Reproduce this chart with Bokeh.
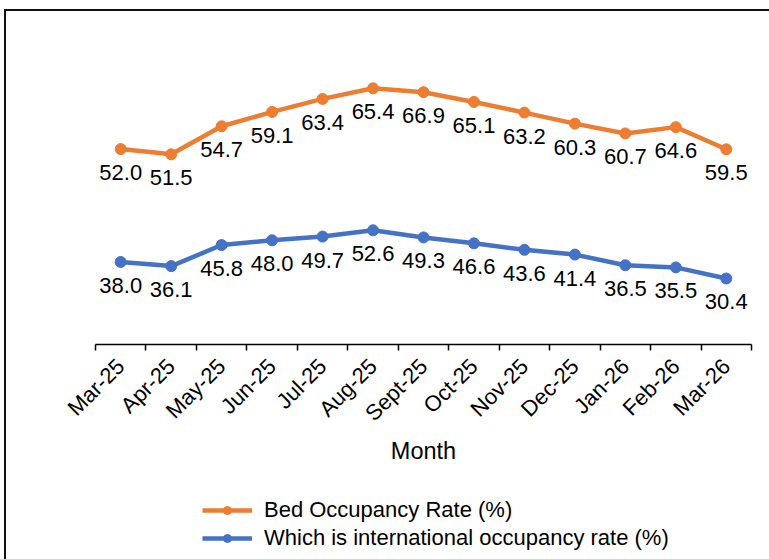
from bokeh.plotting import figure
from bokeh.layouts import column
from bokeh.models import Range1d, FixedTicker, ColumnDataSource, Legend, LegendItem
from bokeh.core.properties import value
from bokeh.embed import file_html
from bokeh.resources import INLINE
import math

months = ["Mar-25", "Apr-25", "May-25", "Jun-25", "Jul-25", "Aug-25", "Sept-25",
          "Oct-25", "Nov-25", "Dec-25", "Jan-26", "Feb-26", "Mar-26"]
intl_rate = [38.0, 36.1, 45.8, 48.0, 49.7, 52.6, 49.3, 46.6, 43.6, 41.4, 36.5, 35.5, 30.4]
bed_rate = [52.0, 51.5, 54.7, 59.1, 63.4, 65.4, 66.9, 65.1, 63.2, 60.3, 60.7, 64.6, 59.5]
series_names = ["Bed Occupancy Rate (%)", "Which is international occupancy rate (%)"]

ORANGE = "#ED7D31"
BLUE = "#4472C4"
FONT = "Liberation Sans"

n = len(months)
xs = [i + 0.5 for i in range(n)]
stacked = [a + b for a, b in zip(intl_rate, bed_rate)]

src = ColumnDataSource(dict(
    x=xs, intl=intl_rate, stacked=stacked,
    intl_lbl=[f"{v:.1f}" for v in intl_rate],
    bed_lbl=[f"{v:.1f}" for v in bed_rate],
))

p = figure(frame_width=656, frame_height=304, output_backend="svg", toolbar_location=None,
           x_range=Range1d(0, n), y_range=Range1d(0, 140),
           min_border_left=89, min_border_right=18, min_border_top=29, min_border_bottom=140)
p.outline_line_color = None
p.xgrid.visible = False
p.ygrid.visible = False
p.yaxis.visible = False

ax = p.xaxis[0]
ax.ticker = FixedTicker(ticks=xs, minor_ticks=list(range(n + 1)))
ax.major_label_overrides = {x: m for x, m in zip(xs, months)}
ax.major_tick_in = 0
ax.major_tick_out = 0
ax.minor_tick_in = 0
ax.minor_tick_out = 6
ax.minor_tick_line_color = "#000000"
ax.minor_tick_line_width = 1.5
ax.axis_line_color = "#000000"
ax.axis_line_width = 1.5
ax.major_label_orientation = math.pi / 4
ax.major_label_text_font = FONT
ax.major_label_text_font_size = "22px"
ax.major_label_text_color = "#000000"
ax.major_label_standoff = 12
ax.axis_label = "Month"
ax.axis_label_text_font = FONT
ax.axis_label_text_font_size = "23.5px"
ax.axis_label_text_font_style = "normal"
ax.axis_label_text_color = "#000000"
ax.axis_label_standoff = 0

p.line("x", "stacked", source=src, line_color=ORANGE, line_width=4.5)
p.scatter("x", "stacked", source=src, size=11, fill_color=ORANGE, line_color=ORANGE)
p.line("x", "intl", source=src, line_color=BLUE, line_width=4.5)
p.scatter("x", "intl", source=src, size=11, fill_color=BLUE, line_color=BLUE)

for col, ycol in (("bed_lbl", "stacked"), ("intl_lbl", "intl")):
    p.text("x", ycol, text=col, source=src, text_font=value(FONT), text_font_size="22px",
           text_color="#000000", text_align="center", text_baseline="top", y_offset=16)

# legend strip below the chart
p2 = figure(width=763, height=75, output_backend="svg", toolbar_location=None,
            x_range=Range1d(0, n), y_range=Range1d(1000, 1001),
            x_axis_type=None, y_axis_type=None, min_border=0)
p2.outline_line_color = None
p2.xgrid.visible = False
p2.ygrid.visible = False
la = p2.line("x", "stacked", source=src, line_color=ORANGE, line_width=4.5)
sa = p2.scatter("x", "stacked", source=src, size=11, fill_color=ORANGE, line_color=ORANGE)
lb = p2.line("x", "intl", source=src, line_color=BLUE, line_width=4.5)
sb = p2.scatter("x", "intl", source=src, size=11, fill_color=BLUE, line_color=BLUE)

legend = Legend(items=[
    LegendItem(label=series_names[0], renderers=[la, sa]),
    LegendItem(label=series_names[1], renderers=[lb, sb]),
], location=(107, 8))
legend.padding = 0
legend.margin = 0
legend.border_line_alpha = 0
legend.background_fill_alpha = 0
legend.glyph_width = 50
legend.glyph_height = 20
legend.label_height = 20
legend.spacing = 2
legend.label_standoff = 12
legend.label_text_font = FONT
legend.label_text_font_size = "22px"
legend.label_text_color = "#000000"
p2.add_layout(legend, "center")

layout = column(p, p2, spacing=0)
layout.styles = {"border-top": "2px solid #111", "border-left": "2px solid #111",
                 "margin-left": "4px", "margin-top": "9px"}

open("out.html", "w").write(file_html(layout, INLINE))
